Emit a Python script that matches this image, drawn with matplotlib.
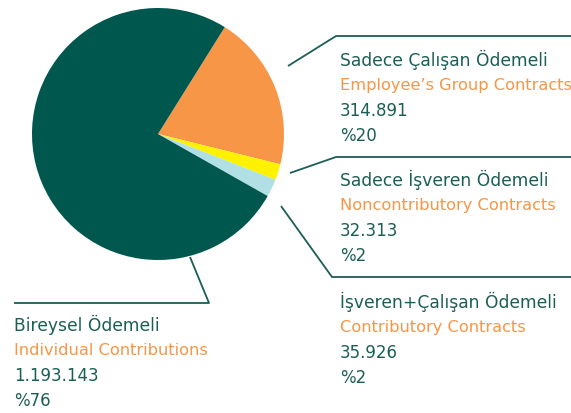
import matplotlib
matplotlib.use("Agg")
import matplotlib.pyplot as plt

# slices in drawing order (clockwise from the top right)
labels_tr = ["Sadece Çalışan Ödemeli", "Sadece İşveren Ödemeli",
             "İşveren+Çalışan Ödemeli", "Bireysel Ödemeli"]
labels_en = ["Employee’s Group Contracts", "Noncontributory Contracts",
             "Contributory Contracts", "Individual Contributions"]
values = [314891, 32313, 35926, 1193143]
value_text = ["314.891", "32.313", "35.926", "1.193.143"]
pct_text = ["%20", "%2", "%2", "%76"]
colors = ["#F79646", "#FFF200", "#B0DFE4", "#00574E"]

dark = "#1B5E55"
orange = "#F79646"
H = 414

fig = plt.figure(figsize=(5.71, 4.14), dpi=100)
ax = fig.add_axes([0, 0, 1, 1])

ax.pie(values, colors=colors, startangle=58, counterclock=False,
       center=(158, H - 135), radius=126, frame=True,
       wedgeprops=dict(linewidth=0))
ax.set_xlim(0, 571)
ax.set_ylim(0, H)
ax.set_aspect("auto")
ax.axis("off")

# leader lines (pixel coords, y from top)
leaders = [
    [(288, 67), (336, 37), (571, 37)],
    [(290, 174), (336, 158), (571, 158)],
    [(281, 207), (332, 278), (571, 278)],
    [(190, 258), (209, 304), (14, 304)],
]
for pts in leaders:
    xs = [p[0] for p in pts]
    ys = [H - p[1] for p in pts]
    ax.plot(xs, ys, color=dark, lw=1.3, solid_capstyle="butt")

# text block positions (x, y of first line centre)
blocks = [(340, 60), (340, 180), (340, 302), (14, 325)]
for i, (x, y) in enumerate(blocks):
    rows = [(labels_tr[i], dark, 12.3), (labels_en[i], orange, 11.7),
            (value_text[i], dark, 12), (pct_text[i], dark, 12)]
    for k, (t, c, fs) in enumerate(rows):
        ax.text(x, H - (y + k * 25.3), t, color=c, fontsize=fs,
                ha="left", va="center", family="DejaVu Sans")

fig.savefig("out.png", dpi=100)
